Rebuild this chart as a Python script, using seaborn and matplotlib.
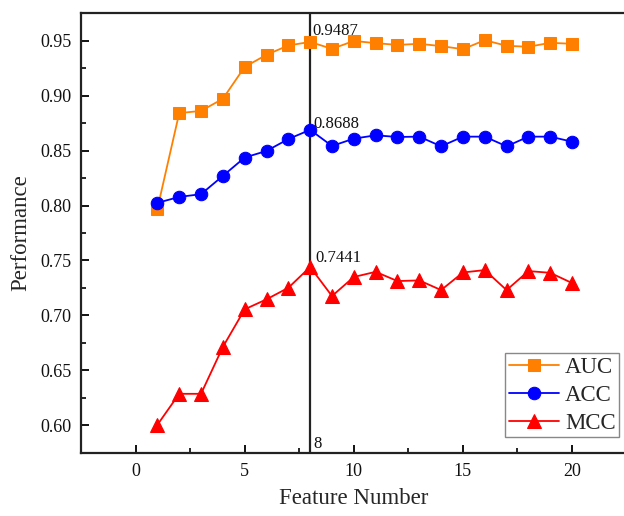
import numpy as np
import pandas as pd
import matplotlib
matplotlib.use('Agg')
import matplotlib.pyplot as plt
from matplotlib.ticker import MultipleLocator
import seaborn as sns

# Data
features = list(range(1, 21))
auc = [0.797, 0.884, 0.886, 0.897, 0.926, 0.937, 0.9455, 0.9487, 0.9424, 0.9496,
       0.9476, 0.946, 0.947, 0.9449, 0.9421, 0.9503, 0.9452, 0.9443, 0.9479, 0.947]
acc = [0.8024, 0.8078, 0.8103, 0.8269, 0.8436, 0.8496, 0.8604, 0.8688, 0.8541, 0.8608,
       0.8638, 0.8623, 0.8626, 0.8538, 0.8626, 0.8626, 0.8538, 0.8626, 0.8626, 0.858]
mcc = [0.6006, 0.6288, 0.6288, 0.6714, 0.7056, 0.7147, 0.7252, 0.7441, 0.7177, 0.735,
       0.7397, 0.7313, 0.7319, 0.7231, 0.7391, 0.7413, 0.7231, 0.7404, 0.7388, 0.7295]
best_n = 8

sns.set_theme(style='ticks')
plt.rcParams['font.family'] = ['Liberation Serif', 'DejaVu Serif']

df = pd.DataFrame({'Feature': features * 3,
                   'Value': auc + acc + mcc,
                   'Metric': ['AUC'] * 20 + ['ACC'] * 20 + ['MCC'] * 20})

fig = plt.figure(figsize=(6.24, 5.16), dpi=100)
ax = fig.add_axes([0.1298, 0.1221, 0.8744, 0.8527])

styles = {'AUC': ('#FF8000', 's', 8.5), 'ACC': ('#0000FF', 'o', 9), 'MCC': ('#FF0000', '^', 10)}
for name, (col, mk, ms) in styles.items():
    sns.lineplot(data=df[df['Metric'] == name], x='Feature', y='Value', ax=ax,
                 color=col, marker=mk, markersize=ms, markeredgecolor=col,
                 linewidth=1.3, label=name)

ax.axvline(best_n, color='#222222', linewidth=1.6, zorder=1)

# labels at the chosen feature number
offs = {'AUC': (1.5, 5.3), 'ACC': (2, 1.2), 'MCC': (4, 3.6)}
for name, vals in [('AUC', auc), ('ACC', acc), ('MCC', mcc)]:
    v = vals[best_n - 1]
    ax.annotate(f'{v:.4f}', (best_n, v), xytext=offs[name], textcoords='offset points',
                ha='left', va='baseline', fontsize=12, color='#111111')
ax.annotate(str(best_n), (best_n, 0.575), xytext=(2.5, 3.6), textcoords='offset points',
            ha='left', va='baseline', fontsize=12, color='#111111')

ax.set_xlim(-2.5, 22.5)
ax.set_ylim(0.575, 0.975)
ax.xaxis.set_major_locator(MultipleLocator(5))
ax.xaxis.set_minor_locator(MultipleLocator(2.5))
ax.yaxis.set_major_locator(MultipleLocator(0.05))
ax.yaxis.set_minor_locator(MultipleLocator(0.025))
ax.yaxis.set_major_formatter(plt.FormatStrFormatter('%.2f'))
ax.tick_params(which='major', direction='in', length=6, width=1.4, labelsize=13, pad=7,
               colors='#111111')
ax.tick_params(which='minor', direction='in', length=3.5, width=1.4)
for s in ax.spines.values():
    s.set_linewidth(1.6)
    s.set_color('#222222')

ax.set_xlabel('Feature Number', fontsize=16.5, labelpad=6)
ax.set_ylabel('Performance', fontsize=16.5, labelpad=6)

leg = ax.legend(loc='lower right', bbox_to_anchor=(0.992, 0.153), bbox_transform=fig.transFigure,
                borderaxespad=0, fontsize=16.5, fancybox=False, edgecolor='#888888',
                handlelength=2.2, labelspacing=0.3, borderpad=0.15, handletextpad=0.25,
                framealpha=1)
leg.get_frame().set_linewidth(1.0)

fig.savefig('out.png', dpi=100)
